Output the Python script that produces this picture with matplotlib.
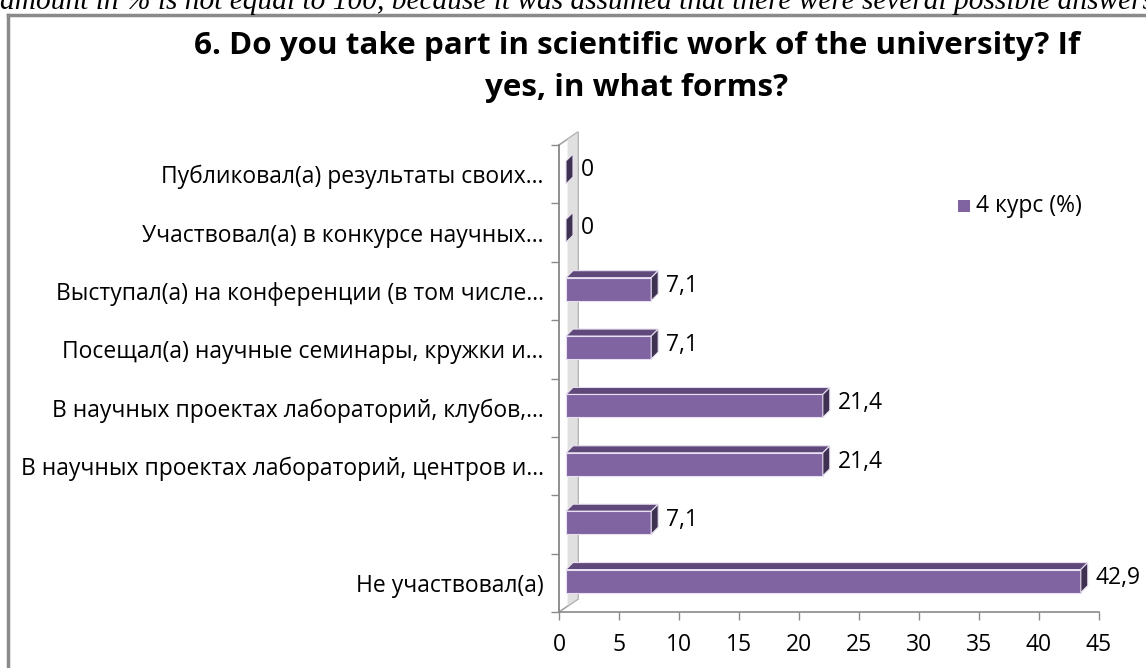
import matplotlib
matplotlib.use("Agg")
import matplotlib.pyplot as plt
from matplotlib.patches import Polygon, Rectangle
import numpy as np

categories = [
    "Не участвовал(а)",
    "",
    "В научных проектах лабораторий, центров и…",
    "В научных проектах лабораторий, клубов,…",
    "Посещал(а) научные семинары, кружки и…",
    "Выступал(а) на конференции (в том числе…",
    "Участвовал(а) в конкурсе научных…",
    "Публиковал(а) результаты своих…",
]
values = [42.9, 7.1, 21.4, 21.4, 7.1, 7.1, 0, 0]
value_labels = ["42,9", "7,1", "21,4", "21,4", "7,1", "7,1", "0", "0"]
series_name = "4 курс (%)"
title = "6. Do you take part in scientific work of the university? If\nyes, in what forms?"
top_note = "amount in % is not equal to 100, because it was assumed that there were several possible answers"
x_ticks = [0, 5, 10, 15, 20, 25, 30, 35, 40, 45]

plt.rcParams['font.family'] = ['Open Sans', 'DejaVu Sans']
FS = 16.5

W, H = 1146, 668
fig = plt.figure(figsize=(W / 100, H / 100), dpi=100)

# chart border
border_y = 15
fig.add_artist(plt.Line2D([8 / W, 8 / W], [0, 1 - border_y / H], color='#8a8a8a', lw=2.5))
fig.add_artist(plt.Line2D([8 / W, 1], [1 - border_y / H, 1 - border_y / H], color='#8a8a8a', lw=2.5))

# clipped note at the very top (only its lower part is visible)
fig.text(0 / W, 1 - 9 / H, top_note, family='Liberation Serif', style='italic',
         fontsize=21.2, ha='left', va='baseline')

ax_l, ax_r, ax_b, ax_t = 559, 1099, 612, 145
ax = fig.add_axes([ax_l / W, 1 - ax_b / H, (ax_r - ax_l) / W, (ax_b - ax_t) / H])
ax.set_xlim(0, 45)
ax.set_ylim(-0.5, 7.5)

pxu_x = (ax_r - ax_l) / 45.0
pxu_y = (ax_b - ax_t) / 8.0
dx = 7 / pxu_x
dy = 7 / pxu_y
x0 = 7 / pxu_x          # front plane starts a little in front of the wall

# back wall
wdx = 19 / pxu_x
wdy = 13 / pxu_y
wall = Polygon([(0, -0.5), (wdx, -0.5 + wdy), (wdx, 7.5 + wdy), (0, 7.5)],
               closed=True, facecolor='#ffffff', edgecolor='#a6a6a6', lw=1.2,
               clip_on=False, zorder=1)
ax.add_patch(wall)
shade = Polygon([(wdx * 0.45, -0.5 + wdy * 0.45), (wdx, -0.5 + wdy), (wdx, 7.5 + wdy), (wdx * 0.45, 7.5 + wdy * 0.45)],
                closed=True, facecolor='#d9d9d9', edgecolor='none', alpha=0.8,
                clip_on=False, zorder=1)
ax.add_patch(shade)

bh = 23 / pxu_y
front_c = '#8064A2'
top_c = '#5F497A'
side_c = '#3F3151'
for i, v in enumerate(values):
    yc = i + 0.03
    yb, yt = yc - bh / 2, yc + bh / 2
    xs, xe = x0, x0 + v
    if v > 0:
        ax.add_patch(Polygon([(xs, yt), (xe, yt), (xe + dx, yt + dy), (xs + dx, yt + dy)],
                             closed=True, facecolor=top_c, edgecolor='#e8e0f0', lw=0.8, zorder=3, clip_on=False))
        ax.add_patch(Rectangle((xs, yb), xe - xs, bh, facecolor=front_c, edgecolor='#e8e0f0', lw=0.8, zorder=3, clip_on=False))
    ax.add_patch(Polygon([(xe, yb), (xe + dx, yb + dy), (xe + dx, yt + dy), (xe, yt)],
                         closed=True, facecolor=side_c, edgecolor='#e8e0f0', lw=0.8, zorder=4, clip_on=False))
    ax.text(xe + dx + 8 / pxu_x, yc + dy * 0.4, value_labels[i], fontsize=FS,
            ha='left', va='center', zorder=5)

ax.set_yticks(range(len(categories)))
ax.set_yticklabels(categories, fontsize=FS)
ax.tick_params(axis='y', which='major', length=0, pad=11)
ax.set_yticks(np.arange(-0.5, 8, 1), minor=True)
ax.tick_params(axis='y', which='minor', length=6, color='#8a8a8a', width=1)
ax.set_xticks(x_ticks)
ax.set_xticklabels([str(t) for t in x_ticks], fontsize=FS)
ax.tick_params(axis='x', length=6, color='#8a8a8a', width=1, pad=9)

for s in ['top', 'right']:
    ax.spines[s].set_visible(False)
for s in ['left', 'bottom']:
    ax.spines[s].set_color('#8a8a8a')
    ax.spines[s].set_linewidth(1.2)
ax.patch.set_visible(False)

fig.text(637 / W, 1 - 67 / H, title, fontsize=22.6, fontweight='bold', ha='center', va='center',
         linespacing=1.5)

# legend
fig.add_artist(Rectangle((958 / W, 1 - 212 / H), 12 / W, 12 / H, facecolor=front_c, edgecolor='none',
                         transform=fig.transFigure))
fig.text(976 / W, 1 - 206 / H, series_name, fontsize=FS, ha='left', va='center')

fig.savefig("out.png", dpi=100)
